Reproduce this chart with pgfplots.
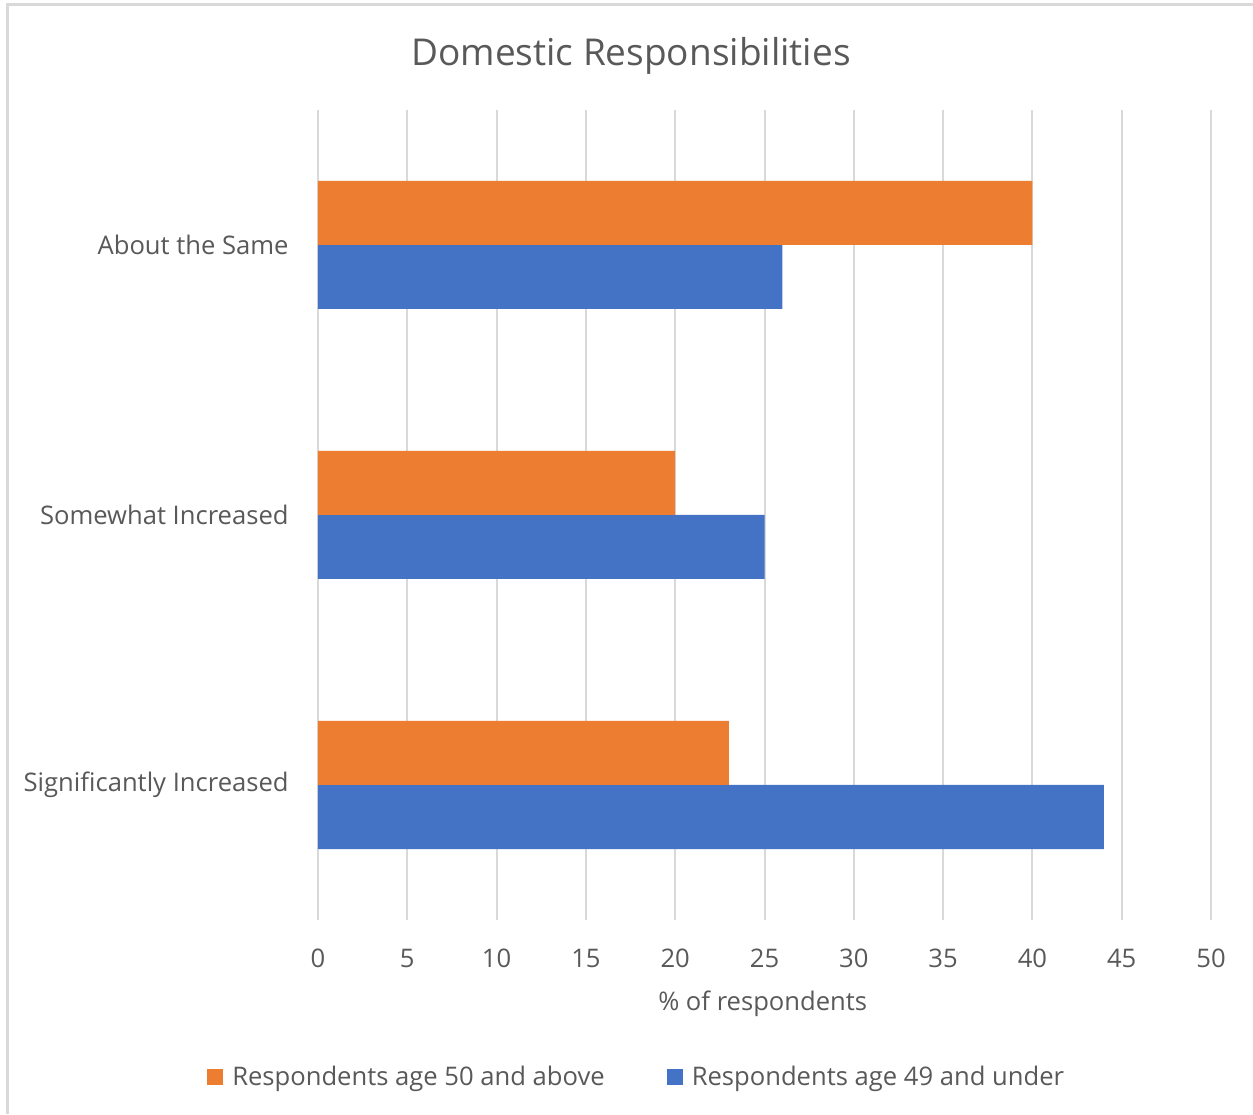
\documentclass[border=0pt]{standalone}
\usepackage{fontspec}
\setmainfont{Open Sans}
\usepackage{pgfplots}
\pgfplotsset{compat=1.18}
\definecolor{txt}{HTML}{595959}
\definecolor{grd}{HTML}{D9D9D9}
\definecolor{oran}{HTML}{ED7D31}
\definecolor{blu}{HTML}{4472C4}
\begin{document}
\begin{tikzpicture}
\useasboundingbox (0,0) rectangle (626.5pt,557pt);
\fill[white] (0,0) rectangle (626.5pt,557pt);
\draw[grd, line width=1.5pt] (3.5pt,0) -- (3.5pt,554.5pt) -- (626.5pt,554.5pt);
\begin{axis}[
  at={(159pt,97pt)}, anchor=south west,
  scale only axis, width=446.5pt, height=405pt,
  xbar=0pt, bar width=32pt,
  xmin=0, xmax=50, ymin=-0.5, ymax=2.5,
  xtick={0,5,...,50}, ytick={0,1,2},
  yticklabels={Significantly Increased, Somewhat Increased, About the Same},
  xmajorgrids, grid style={grd, line width=1pt},
  axis line style={draw=none}, major tick length=0pt,
  /pgf/number format/assume math mode=true,
  ticklabel style={font=\fontsize{12.8}{15}\selectfont, text=txt, inner sep=0pt},
  xticklabel style={anchor=north, yshift=-14.5pt},
  yticklabel style={anchor=east, xshift=-14.5pt},
  title={Domestic Responsibilities},
  title style={at={(0.3505,1.0716)}, anchor=center, yshift=-8pt, font=\fontsize{18.5}{22}\selectfont, text=txt},
  xlabel={\% of respondents},
  xlabel style={at={(0.498,-0.103)}, anchor=center, font=\fontsize{12.8}{15}\selectfont, text=txt},
  legend style={at={(0.358,-0.194)}, anchor=center, draw=none, fill=none,
    font=\fontsize{12.8}{15}\selectfont, text=txt, legend columns=2,
    /tikz/every odd column/.append style={column sep=2.5pt},
    /tikz/every even column/.append style={column sep=29pt},
    inner sep=0pt},
  legend image code/.code={\fill[#1] (0pt,-4pt) rectangle (8pt,4pt);},
  reverse legend,
]
\addplot[fill=blu, draw=none] coordinates {(44,0) (25,1) (26,2)};
\addplot[fill=oran, draw=none] coordinates {(23,0) (20,1) (40,2)};
\legend{Respondents age 49 and under, Respondents age 50 and above}
\end{axis}
\end{tikzpicture}
\end{document}
